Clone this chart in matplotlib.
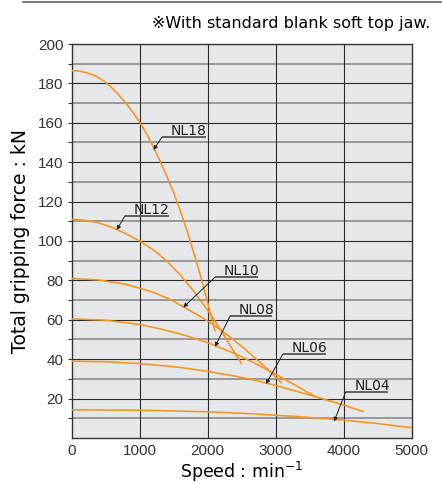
import matplotlib
matplotlib.use("Agg")
import matplotlib.pyplot as plt
from matplotlib.lines import Line2D

# ── data (speed in min-1, force in kN) ─────────────────────────────────────────
nl18_speed = [0, 100, 200, 300, 400, 500, 600, 700, 800, 900, 1000, 1100, 1200,
              1300, 1400, 1500, 1600, 1700, 1800, 1900, 2000, 2110]
nl18_force = [186.5, 186.3, 185.6, 184.5, 182.8, 180.5, 177.5, 173.8, 169.8, 165.3,
              160.3, 154.5, 147.8, 140.5, 132.8, 124.5, 115.2, 104.8, 93.5, 81.5,
              68.5, 54]

nl12_speed = [0, 200, 400, 600, 800, 1000, 1200, 1400, 1600, 1800, 2000, 2200,
              2350, 2500]
nl12_force = [111, 110.5, 109.2, 106.8, 103.6, 100, 95.5, 89.8, 82.6, 74.3, 64.8,
              54.4, 45.8, 37.5]

nl10_speed = [0, 400, 800, 1200, 1450, 1640, 1850, 2080, 2300, 2500, 2700, 2900, 3090]
nl10_force = [81, 80.2, 78, 74, 70.3, 66.6, 62.5, 57.6, 52, 46.5, 40.5, 34.3, 27.8]

nl08_speed = [0, 500, 1000, 1300, 1600, 2000, 2400, 2700, 3000, 3300, 3580]
nl08_force = [60.5, 59.8, 57.6, 55.4, 52.8, 48.4, 42.8, 37.8, 32.3, 26.6, 21]

nl06_speed = [0, 500, 1000, 1600, 2000, 2400, 2700, 3000, 3580, 4000, 4290]
nl06_force = [39, 38.7, 37.8, 35.8, 33.8, 31.4, 29.3, 26.7, 21, 16.7, 13.4]

nl04_speed = [0, 1000, 2000, 2700, 3300, 3850, 4400, 5000]
nl04_force = [14.3, 14.1, 13.3, 12.2, 10.9, 9.5, 7.7, 5.2]

models = ["NL18", "NL12", "NL10", "NL08", "NL06", "NL04"]
speeds = [nl18_speed, nl12_speed, nl10_speed, nl08_speed, nl06_speed, nl04_speed]
forces = [nl18_force, nl12_force, nl10_force, nl08_force, nl06_force, nl04_force]

# label leaders: underline start/end x, underline y, arrow tip
lab_x0 = [1324, 784, 2107, 2328, 3103, 4029]
lab_x1 = [1971, 1431, 2745, 2950, 3735, 4656]
lab_y = [152.6, 112.8, 81.6, 61.9, 42.5, 23.4]
tip_x = [1203, 662, 1641, 2107, 2857, 3857]
tip_y = [146.2, 105.6, 66.3, 46.3, 27.4, 8.3]

x_ticks = [0, 1000, 2000, 3000, 4000, 5000]
y_ticks = [20, 40, 60, 80, 100, 120, 140, 160, 180, 200]

ORANGE = "#f7941d"
DARK = "#333333"

# ── figure ─────────────────────────────────────────────────────────────────────
fig = plt.figure(figsize=(4.42, 4.83), dpi=100)
ax = fig.add_axes([0.1622, 0.0932, 0.7693, 0.8157])
ax.set_facecolor("#e6e7e8")
ax.set_xlim(0, 5000)
ax.set_ylim(0, 200)

# grid: dark every 20 kN, grey at the odd tens, dark every 1000 min-1
for v in range(10, 200, 20):
    ax.axhline(v, color="#8c8c8c", lw=1.2, zorder=1)
for v in range(20, 200, 20):
    ax.axhline(v, color="#2b2b2b", lw=0.8, zorder=1)
for v in x_ticks[1:-1]:
    ax.axvline(v, color="#2b2b2b", lw=0.8, zorder=1)

for s, f in zip(speeds, forces):
    ax.plot(s, f, color=ORANGE, lw=1.15, zorder=3, solid_capstyle="butt",
            solid_joinstyle="round")

for name, x0, x1, y, tx, ty in zip(models, lab_x0, lab_x1, lab_y, tip_x, tip_y):
    ax.plot([x0, x1], [y, y], color="#555555", lw=1.3, zorder=4,
            solid_capstyle="butt")
    ax.text(x0 + 125, y + 1.0, name, fontsize=10, color="#222222",
            ha="left", va="baseline", zorder=5)
    ax.annotate("", xy=(tx, ty), xytext=(x0, y),
                arrowprops=dict(arrowstyle="-|>", lw=0.7, color="#222222",
                                mutation_scale=6, shrinkA=0, shrinkB=0),
                zorder=5)

for sp in ax.spines.values():
    sp.set_color(DARK)
    sp.set_linewidth(1.0)

tick_font = dict(family=["Liberation Sans", "DejaVu Sans"], size=11)
ax.set_xticks(x_ticks)
ax.set_xticklabels([str(t) for t in x_ticks], fontdict=tick_font, color=DARK)
ax.set_yticks(y_ticks)
ax.set_yticklabels([str(t) for t in y_ticks], fontdict=tick_font, color=DARK)
ax.set_yticks(range(10, 200, 20), minor=True)
ax.tick_params(axis="x", length=0, pad=4)
ax.tick_params(axis="y", which="both", direction="out", length=3,
               color=DARK, width=0.8, pad=3)

ax.set_xlabel(r"Speed : min$^{-1}$", fontsize=12.5, labelpad=2)
ax.set_ylabel("Total gripping force : kN", fontsize=13.5, labelpad=6)

fig.text(0.973, 0.952, "※With standard blank soft top jaw.", fontsize=11.5,
         ha="right", va="center", family=["DejaVu Sans", "Noto Sans CJK JP"])
fig.add_artist(Line2D([23 / 442, 1], [1 - 1.5 / 483] * 2, color="#666666", lw=1.2))

fig.savefig("out.png", dpi=100)
